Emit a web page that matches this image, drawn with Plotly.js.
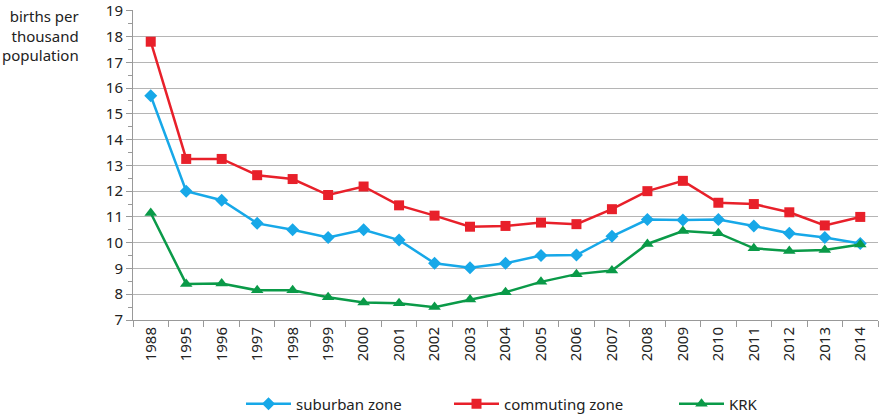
<!DOCTYPE html>
<html>
<head>
<meta charset="utf-8">
<script src="https://cdn.plot.ly/plotly-3.0.1.min.js"></script>
<style>html,body{margin:0;padding:0;background:#fff;}#chart{width:879px;height:417px;}</style>
</head>
<body>
<div id="chart"></div>
<script>
var years = ["1988","1995","1996","1997","1998","1999","2000","2001","2002","2003","2004","2005","2006","2007","2008","2009","2010","2011","2012","2013","2014"];
var suburban = [15.7,12.0,11.65,10.75,10.5,10.2,10.5,10.1,9.2,9.03,9.2,9.5,9.52,10.25,10.9,10.88,10.9,10.65,10.37,10.2,9.97];
var commuting = [17.8,13.25,13.25,12.62,12.47,11.85,12.18,11.45,11.05,10.62,10.65,10.78,10.72,11.3,12.0,12.4,11.55,11.5,11.18,10.67,11.0];
var krk = [11.15,8.4,8.42,8.15,8.15,7.88,7.68,7.65,7.5,7.8,8.08,8.48,8.78,8.92,9.95,10.45,10.37,9.78,9.68,9.72,9.93];
var seriesNames = ["suburban zone","commuting zone","KRK"];
var yTitle = "births per<br>thousand<br>population";

var font = "Noto Sans, sans-serif";
var fs = 15;
var traces = [
  {x: years, y: suburban, name: seriesNames[0], type: "scatter", mode: "lines+markers", legend: "legend",
   line: {color: "#17a8e8", width: 2.5}, marker: {symbol: "diamond", size: 10, color: "#17a8e8"}},
  {x: years, y: commuting, name: seriesNames[1], type: "scatter", mode: "lines+markers", legend: "legend2",
   line: {color: "#e8202a", width: 2.5}, marker: {symbol: "square", size: 10, color: "#e8202a"}},
  {x: years, y: krk, name: seriesNames[2], type: "scatter", mode: "lines+markers", legend: "legend3",
   line: {color: "#0a9a48", width: 2.5}, marker: {symbol: "triangle-up", size: 11, color: "#0a9a48"}}
];
function leg(x) {
  return {orientation: "h", xref: "container", yref: "container", x: x, xanchor: "left",
          y: 0.031, yanchor: "middle", bgcolor: "rgba(0,0,0,0)",
          font: {family: font, size: fs, color: "#222"}, itemwidth: 45};
}
var layout = {
  width: 879, height: 417,
  margin: {l: 133, r: 1, t: 10, b: 97},
  paper_bgcolor: "#fff", plot_bgcolor: "#fff",
  font: {family: font, size: fs, color: "#222"},
  showlegend: true,
  legend: leg(241/879),
  legend2: leg(449/879),
  legend3: leg(674/879),
  xaxis: {type: "category", range: [-0.5, 20.5], tickangle: -90, tickson: "boundaries",
          ticks: "outside", ticklen: 6, tickcolor: "#999", showgrid: false,
          showline: true, linecolor: "#999", linewidth: 1, zeroline: false,
          tickfont: {family: font, size: fs, color: "#222"}, fixedrange: true, automargin: false},
  yaxis: {range: [7, 19.03], tick0: 7, dtick: 1, tickmode: "linear", ticks: "outside", ticklen: 6, tickcolor: "#999",
          showgrid: true, gridcolor: "#b5b5b5", gridwidth: 1, showline: true, linecolor: "#999",
          zeroline: false, tickfont: {family: font, size: fs, color: "#222"},
          minor: {dtick: 0.5, ticks: "outside", ticklen: 4, tickcolor: "#999", showgrid: false},
          fixedrange: true, automargin: false},
  annotations: [{text: yTitle, xref: "paper", yref: "paper", x: -0.07, y: 1.02,
                 xanchor: "right", yanchor: "top", align: "right", showarrow: false,
                 font: {family: font, size: fs, color: "#222"}}]
};
Plotly.newPlot("chart", traces, layout, {displayModeBar: false, staticPlot: true});
</script>
</body>
</html>
